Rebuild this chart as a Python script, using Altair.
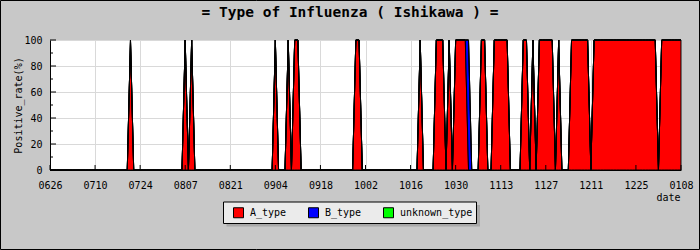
import altair as alt
import pandas as pd

# ---- data (daily positive rate, 0626 .. 0108, one row per 14 days) ----
a_type = [
    0, 0, 0, 0, 0, 0, 0, 0, 0, 0, 0, 0, 0, 0,
    0, 0, 0, 0, 0, 0, 0, 0, 0, 0, 0, 100, 0, 0,
    0, 0, 0, 0, 0, 0, 0, 0, 0, 0, 0, 0, 0, 0,
    100, 0, 100, 0, 0, 0, 0, 0, 0, 0, 0, 0, 0, 0,
    0, 0, 0, 0, 0, 0, 0, 0, 0, 0, 0, 0, 0, 0,
    100, 0, 0, 0, 100, 0, 100, 100, 0, 0, 0, 0, 0, 0,
    0, 0, 0, 0, 0, 0, 0, 0, 0, 0, 0, 100, 100, 0,
    0, 0, 0, 0, 0, 0, 0, 0, 0, 0, 0, 0, 0, 0,
    0, 0, 0, 100, 0, 0, 0, 0, 100, 100, 100, 0, 100, 0,
    100, 100, 100, 100, 0, 0, 0, 0, 100, 100, 0, 0, 100, 100,
    100, 100, 100, 0, 0, 0, 0, 100, 100, 0, 100, 0, 100, 100,
    100, 100, 100, 0, 100, 0, 0, 0, 100, 100, 100, 100, 100, 100,
    0, 100, 100, 100, 100, 100, 100, 100, 100, 100, 100, 100, 100, 100,
    100, 100, 100, 100, 100, 100, 100, 0, 100, 100, 100, 100, 100, 100,
    100,
]
b_type = [
    0, 0, 0, 0, 0, 0, 0, 0, 0, 0, 0, 0, 0, 0,
    0, 0, 0, 0, 0, 0, 0, 0, 0, 0, 0, 0, 0, 0,
    0, 0, 0, 0, 0, 0, 0, 0, 0, 0, 0, 0, 0, 0,
    0, 0, 0, 0, 0, 0, 0, 0, 0, 0, 0, 0, 0, 0,
    0, 0, 0, 0, 0, 0, 0, 0, 0, 0, 0, 0, 0, 0,
    0, 0, 0, 0, 0, 0, 0, 0, 0, 0, 0, 0, 0, 0,
    0, 0, 0, 0, 0, 0, 0, 0, 0, 0, 0, 0, 0, 0,
    0, 0, 0, 0, 0, 0, 0, 0, 0, 0, 0, 0, 0, 0,
    0, 0, 0, 0, 0, 0, 0, 0, 0, 0, 0, 0, 0, 0,
    0, 0, 0, 0, 100, 0, 0, 0, 0, 0, 0, 0, 0, 0,
    0, 0, 0, 0, 0, 0, 0, 0, 0, 0, 0, 0, 0, 0,
    0, 0, 0, 0, 0, 0, 0, 0, 0, 0, 0, 0, 0, 0,
    0, 0, 0, 0, 0, 0, 0, 0, 0, 0, 0, 0, 0, 0,
    0, 0, 0, 0, 0, 0, 0, 0, 0, 0, 0, 0, 0, 0,
    0,
]
unknown_type = [0] * 197

series_names = ["A_type", "B_type", "unknown_type"]
series_colors = ["#ff0000", "#0000ff", "#00ff00"]
tick_days = [0, 14, 28, 42, 56, 70, 84, 98, 112, 126, 140, 154, 168, 182, 196]
tick_labels = ["0626", "0710", "0724", "0807", "0821", "0904", "0918", "1002",
               "1016", "1030", "1113", "1127", "1211", "1225", "0108"]
y_major = [0, 20, 40, 60, 80, 100]
y_minor = [10, 30, 50, 70, 90]
title_text = "= Type of Influenza ( Ishikawa ) ="

rows = []
for k, (name, vals) in enumerate(zip(series_names, [a_type, b_type, unknown_type])):
    for d, v in enumerate(vals):
        rows.append({"day": d, "value": v, "type": name, "k": k})
df = pd.DataFrame(rows)

FONT = "DejaVu Sans Mono"
label_expr = "[" + ",".join("'%s'" % s for s in tick_labels) + "][round(datum.value/14)]"

xscale = alt.Scale(domain=[0, 196], nice=False, zero=False)
yscale = alt.Scale(domain=[0, 100], nice=False)

x_axis = alt.Axis(
    values=tick_days, labelExpr=label_expr, grid=True, gridColor="#d9d9d9",
    ticks=False, tickSize=0, labelPadding=10, labelFlush=False, labelOverlap=False,
    domainColor="black", labelFont=FONT, labelFontSize=10, labelColor="black",
    title="date", titleFont=FONT, titleFontSize=10, titleFontWeight="normal",
    titleColor="black", titleX=630, titleY=30, titleAlign="right",
    titleBaseline="alphabetic")
y_axis = alt.Axis(
    values=y_major, grid=True, gridColor="#d9d9d9", ticks=False, tickSize=0,
    labelPadding=8, domainColor="black", labelFont=FONT, labelFontSize=10,
    labelColor="black", title="Positive_rate(%)", titleFont=FONT,
    titleFontSize=10, titleFontWeight="normal", titleColor="black",
    titleX=-29, titleY=65, titleAngle=270, titleAlign="center",
    titleBaseline="alphabetic")

area = alt.Chart(df).mark_area(
    interpolate="linear", stroke="black", strokeWidth=1, opacity=1
).encode(
    x=alt.X("day:Q", scale=xscale, axis=x_axis),
    y=alt.Y("value:Q", stack="zero", scale=yscale, axis=y_axis),
    color=alt.Color("type:N", scale=alt.Scale(domain=series_names, range=series_colors),
                    legend=alt.Legend(
                        orient="none", legendX=183, legendY=167, direction="horizontal",
                        title=None, symbolType="square", symbolSize=100,
                        symbolStrokeColor="black", symbolStrokeWidth=1,
                        symbolOpacity=1, labelFont=FONT, labelFontSize=10,
                        labelColor="black", labelOffset=6, columnPadding=19,
                        padding=0)),
    order=alt.Order("k:Q"),
)

x_ticks = alt.Chart(pd.DataFrame({"day": tick_days})).mark_rule(
    color="black", strokeWidth=1).encode(
    x=alt.X("day:Q", scale=xscale, axis=x_axis),
    y=alt.value(130), y2=alt.value(125))

y_ticks_major = alt.Chart(pd.DataFrame({"value": y_major})).mark_rule(
    color="black", strokeWidth=1).encode(
    y=alt.Y("value:Q", scale=yscale, axis=y_axis),
    x=alt.value(0), x2=alt.value(6))

y_ticks_minor = alt.Chart(pd.DataFrame({"value": y_minor})).mark_rule(
    color="black", strokeWidth=1).encode(
    y=alt.Y("value:Q", scale=yscale, axis=y_axis),
    x=alt.value(0), x2=alt.value(3))

one = pd.DataFrame({"title": [title_text]})
legend_shadow = alt.Chart(one).mark_rect(fill="#a8a8a8", strokeWidth=0).encode(
    x=alt.value(176.5), x2=alt.value(430), y=alt.value(165), y2=alt.value(186.5))
legend_box = alt.Chart(one).mark_rect(fill="#ebebeb", stroke="black", strokeWidth=1).encode(
    x=alt.value(173.5), x2=alt.value(426.5), y=alt.value(162), y2=alt.value(183.5))
border = alt.Chart(one).mark_rect(fillOpacity=0, stroke="black", strokeWidth=1).encode(
    x=alt.value(-49.5), x2=alt.value(649.5), y=alt.value(-39.5), y2=alt.value(209.5))
title = alt.Chart(one).mark_text(
    font=FONT, fontSize=14.5, fontWeight="bold", color="black",
    align="center", baseline="alphabetic").encode(
    text="title:N", x=alt.value(300), y=alt.value(-23))

chart = alt.layer(
    area, x_ticks, y_ticks_major, y_ticks_minor, legend_shadow, legend_box, border, title
).properties(
    width=631, height=130,
    autosize=alt.AutoSizeParams(type="none"),
    padding={"left": 50, "top": 40, "right": 19, "bottom": 80},
    background="#c8c8c8",
).configure_view(fill="white", stroke=None)

chart.save("out.html", embed_options={"renderer": "svg", "actions": False})
